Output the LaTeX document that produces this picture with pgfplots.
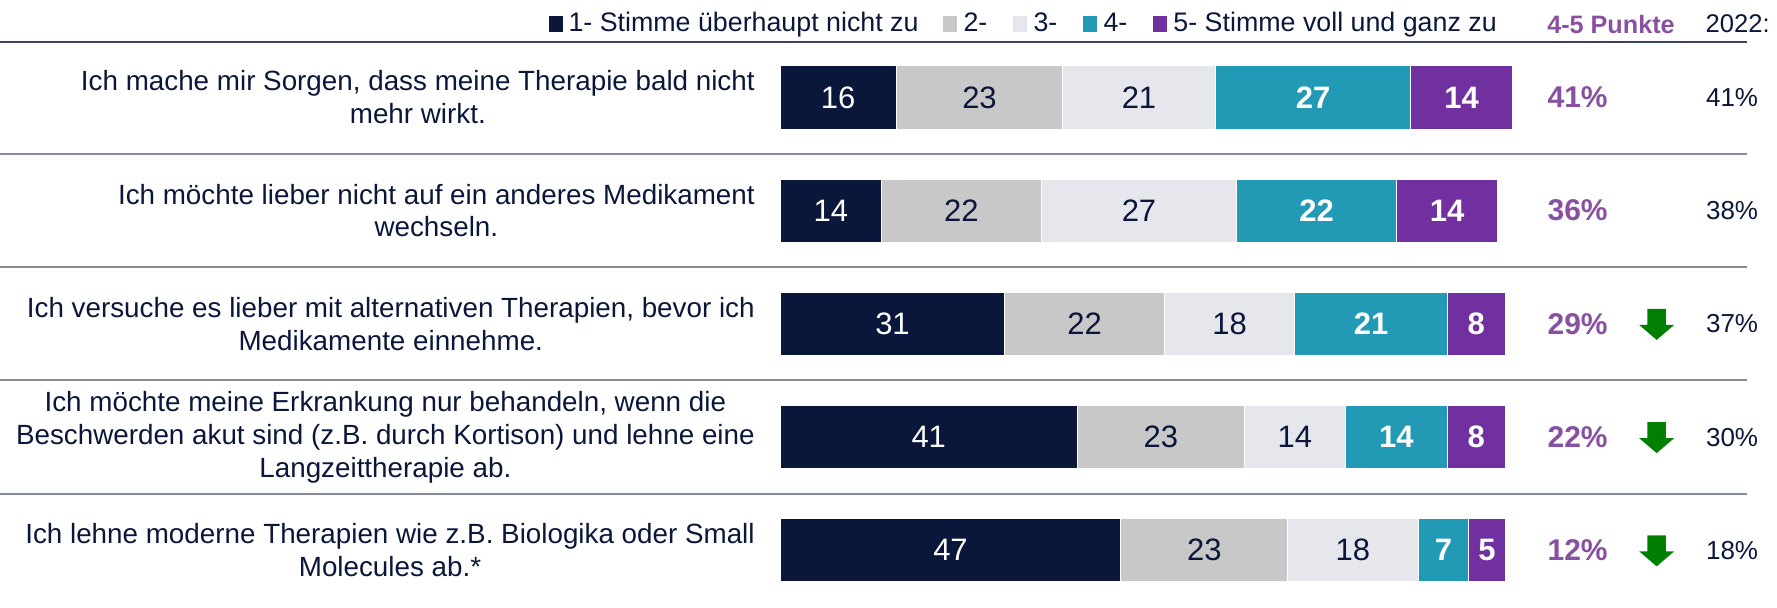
\documentclass[border=0pt]{standalone}
\usepackage{pgfplots}
\pgfplotsset{compat=1.18}
\usepackage{fontspec}
\setmainfont{Liberation Sans}
\definecolor{cA}{RGB}{10,23,58}
\definecolor{cB}{RGB}{200,200,200}
\definecolor{cC}{RGB}{230,231,236}
\definecolor{cD}{RGB}{35,154,181}
\definecolor{cE}{RGB}{112,48,160}
\definecolor{pct}{RGB}{135,80,160}
\definecolor{txt}{RGB}{10,23,58}
\definecolor{sepA}{RGB}{60,66,100}
\definecolor{sepB}{RGB}{135,138,155}
\definecolor{arr}{RGB}{0,128,0}
\pgfdeclareplotmark{dnarrow}{%
  \pgfpathmoveto{\pgfpoint{-4.6pt}{7.75pt}}%
  \pgfpathlineto{\pgfpoint{4.6pt}{7.75pt}}%
  \pgfpathlineto{\pgfpoint{4.6pt}{-0.25pt}}%
  \pgfpathlineto{\pgfpoint{8.75pt}{-0.25pt}}%
  \pgfpathlineto{\pgfpoint{0pt}{-7.75pt}}%
  \pgfpathlineto{\pgfpoint{-8.75pt}{-0.25pt}}%
  \pgfpathlineto{\pgfpoint{-4.6pt}{-0.25pt}}%
  \pgfpathclose
  \pgfusepathqfill}
\pgfplotsset{
  base/.style={width=888.5pt, height=304pt, scale only axis,
    xmin=-107.6, xmax=137.5, ymin=-0.861, ymax=4.51, y dir=reverse,
    hide axis, clip=false},
  vals/.style={draw=none, mark=none, nodes near coords, point meta=explicit symbolic,
    every node near coord/.style={anchor=center, font=\fontsize{15.5}{18}\selectfont, text=#1}},
  bvals/.style={draw=none, mark=none, nodes near coords, point meta=explicit symbolic,
    every node near coord/.style={anchor=center, font=\fontsize{15.5}{18}\selectfont\bfseries, text=#1}},
}
\tikzset{
  lab/.style={anchor=east, align=center, inner sep=0pt, font=\fontsize{13.9}{16.4}\selectfont, text=txt},
  legsq/.style={fill=#1, minimum width=6.7pt, minimum height=7.9pt, inner sep=0pt, draw=none},
  legtx/.style={anchor=base west, inner sep=0pt, font=\fontsize{13.4}{16}\selectfont, text=txt},
}
\begin{document}
\begin{tikzpicture}
\begin{axis}[base, xbar stacked, bar width=0.561]
\addplot[fill=cA, draw=white, line width=0.6pt] coordinates {(16,0) (14,1) (31,2) (41,3) (47,4)};
\addplot[fill=cB, draw=white, line width=0.6pt] coordinates {(23,0) (22,1) (22,2) (23,3) (23,4)};
\addplot[fill=cC, draw=white, line width=0.6pt] coordinates {(21,0) (27,1) (18,2) (14,3) (18,4)};
\addplot[fill=cD, draw=white, line width=0.6pt] coordinates {(27,0) (22,1) (21,2) (14,3) (7,4)};
\addplot[fill=cE, draw=white, line width=0.6pt] coordinates {(14,0) (14,1) (8,2) (8,3) (5,4)};
\end{axis}
\begin{axis}[base]
% separators
\draw[sepA, line width=1pt] (axis cs:-107.6,-0.49) -- (axis cs:133.4,-0.49);
\draw[sepB, line width=1pt] (axis cs:-107.6,0.5) -- (axis cs:133.4,0.5);
\draw[sepB, line width=1pt] (axis cs:-107.6,1.5) -- (axis cs:133.4,1.5);
\draw[sepB, line width=1pt] (axis cs:-107.6,2.5) -- (axis cs:133.4,2.5);
\draw[sepB, line width=1pt] (axis cs:-107.6,3.5) -- (axis cs:133.4,3.5);
% legend
\node[legsq=cA] at (axis cs:-30.9,-0.651) {};
\node[legtx] at (axis cs:-29.24,-0.581) {1- Stimme überhaupt nicht zu};
\node[legsq=cB] at (axis cs:23.45,-0.651) {};
\node[legtx] at (axis cs:25.24,-0.581) {2-};
\node[legsq=cC] at (axis cs:33.1,-0.651) {};
\node[legtx] at (axis cs:34.9,-0.581) {3-};
\node[legsq=cD] at (axis cs:42.76,-0.651) {};
\node[legtx] at (axis cs:44.55,-0.581) {4-};
\node[legsq=cE] at (axis cs:52.41,-0.651) {};
\node[legtx] at (axis cs:54.2,-0.581) {5- Stimme voll und ganz zu};
% values inside bars (centred in each segment)
\addplot[vals=white] coordinates {(8,0)[16] (7,1)[14] (15.5,2)[31] (20.5,3)[41] (23.5,4)[47]};
\addplot[vals=txt] coordinates {(27.5,0)[23] (25,1)[22] (42,2)[22] (52.5,3)[23] (58.5,4)[23]};
\addplot[vals=txt] coordinates {(49.5,0)[21] (49.5,1)[27] (62,2)[18] (71,3)[14] (79,4)[18]};
\addplot[bvals=white] coordinates {(73.5,0)[27] (74,1)[22] (81.5,2)[21] (85,3)[14] (91.5,4)[7]};
\addplot[bvals=white] coordinates {(94,0)[14] (92,1)[14] (96,2)[8] (96,3)[8] (97.5,4)[5]};
% 4-5 Punkte
\addplot[draw=none, mark=none, nodes near coords, point meta=explicit symbolic,
  every node near coord/.style={anchor=center, font=\fontsize{15}{18}\selectfont\bfseries, text=pct}]
  coordinates {(110,0)[41\%] (110,1)[36\%] (110,2)[29\%] (110,3)[22\%] (110,4)[12\%]};
% 2022
\addplot[draw=none, mark=none, nodes near coords, point meta=explicit symbolic,
  every node near coord/.style={anchor=center, font=\fontsize{13}{16}\selectfont, text=txt}]
  coordinates {(131.3,0)[41\%] (131.3,1)[38\%] (131.3,2)[37\%] (131.3,3)[30\%] (131.3,4)[18\%]};
% arrows
\addplot[only marks, mark=dnarrow, fill=arr, draw=none] coordinates {(120.9,2.005) (120.9,3.005) (120.9,4.005)};
% headers
\node[anchor=base, inner sep=0pt, font=\fontsize{12.6}{15}\selectfont\bfseries, text=pct] at (axis cs:114.6,-0.561) {4-5 Punkte};
\node[anchor=base east, inner sep=0pt, font=\fontsize{12.8}{16}\selectfont, text=txt] at (axis cs:136.55,-0.578) {2022:};
% row labels
\node[lab] at (axis cs:-3.45,0) {Ich mache mir Sorgen, dass meine Therapie bald nicht\\mehr wirkt.};
\node[lab] at (axis cs:-3.45,1) {Ich möchte lieber nicht auf ein anderes Medikament\\wechseln.};
\node[lab] at (axis cs:-3.45,2) {Ich versuche es lieber mit alternativen Therapien, bevor ich\\Medikamente einnehme.};
\node[lab] at (axis cs:-3.45,3) {Ich möchte meine Erkrankung nur behandeln, wenn die\\Beschwerden akut sind (z.B. durch Kortison) und lehne eine\\Langzeittherapie ab.};
\node[lab] at (axis cs:-3.45,4) {Ich lehne moderne Therapien wie z.B. Biologika oder Small\\Molecules ab.*};
\end{axis}
\pgfresetboundingbox
\path[use as bounding box] (0,0) rectangle (888.5pt,304pt);
\end{tikzpicture}
\end{document}
